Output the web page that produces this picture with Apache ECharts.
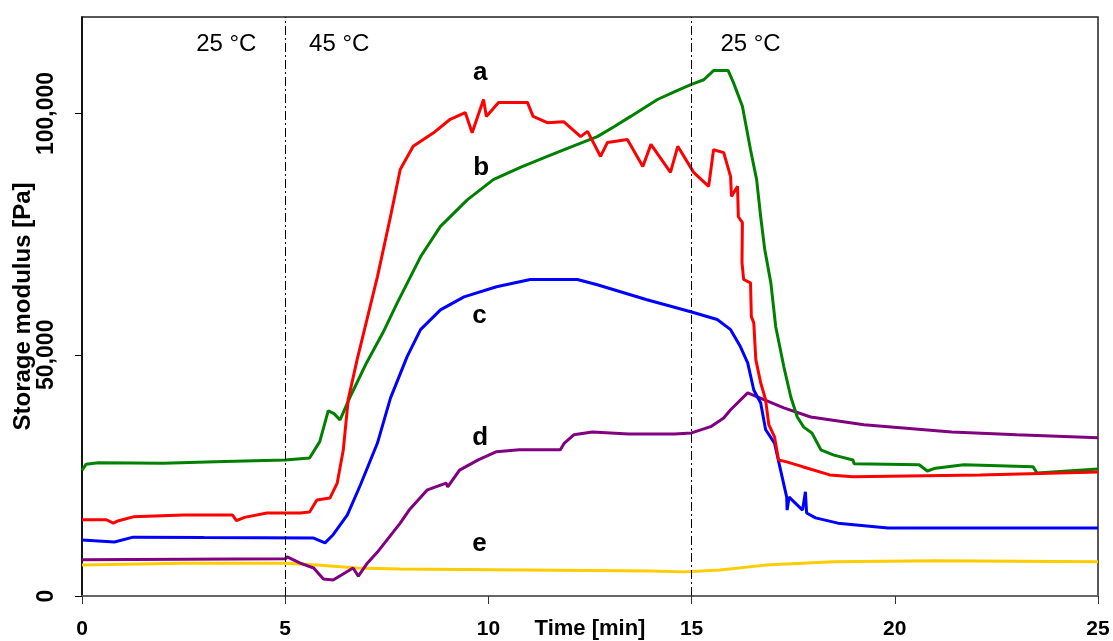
<!DOCTYPE html>
<html><head><meta charset="utf-8">
<script src="https://cdn.jsdelivr.net/npm/echarts@6/dist/echarts.min.js"></script>
<style>html,body{margin:0;padding:0;background:#fff}#c{width:1113px;height:641px}</style>
</head><body><div id="c"></div>
<script>
const xTicks = [0, 5, 10, 15, 20, 25];
const yTicks = [0, 50000, 100000];
const seriesA = [[0,15800],[0.6,15800],[0.77,15100],[0.9,15600],[1.26,16400],[2.5,16800],[3.7,16800],[3.8,15600],[4.0,16300],[4.55,17200],[5.37,17200],[5.6,17400],[5.78,19900],[6.1,20300],[6.28,23400],[6.43,30300],[6.55,40700],[6.77,49000],[7.27,66200],[7.59,78600],[7.83,88400],[8.15,93200],[8.65,96000],[9.06,98800],[9.43,100200],[9.6,96000],[9.88,102900],[9.95,99400],[10.25,102300],[10.96,102300],[11.1,99400],[11.45,98100],[11.85,98300],[12.27,95200],[12.44,96300],[12.76,91100],[12.93,94000],[13.42,94600],[13.8,89000],[14.0,93600],[14.48,87800],[14.66,93200],[15.05,87800],[15.42,84900],[15.54,92500],[15.79,91900],[15.96,86900],[15.98,82800],[16.13,84900],[16.15,78600],[16.25,77400],[16.24,69100],[16.28,65600],[16.45,64900],[16.47,57900],[16.53,56600],[16.58,49000],[16.7,44200],[16.82,40700],[16.9,35500],[17.04,33000],[17.14,28200],[17.34,27800],[17.73,26800],[18.4,25100],[18.97,24700],[22.1,25100],[25,25700]];
const seriesB = [[0,26100],[0.1,27300],[0.4,27600],[2,27500],[3.5,27900],[5,28200],[5.6,28600],[5.85,32000],[6.06,38400],[6.2,37800],[6.35,36500],[6.6,41300],[7.0,48300],[7.4,54500],[7.76,60800],[8.33,70300],[8.82,76600],[9.48,82100],[10.12,86300],[10.8,88900],[11.45,91100],[12.1,93300],[12.68,95200],[13.1,97300],[13.5,99400],[14.16,102900],[14.6,104600],[14.98,106000],[15.3,107000],[15.54,108900],[15.9,108900],[16.03,106400],[16.25,101500],[16.45,92500],[16.6,86300],[16.7,78600],[16.8,71800],[16.95,64900],[17.07,55800],[17.27,47500],[17.44,41300],[17.6,37100],[17.76,35000],[17.96,33800],[18.18,30300],[18.5,29200],[18.97,28200],[19.0,27400],[20.6,27200],[20.8,25900],[21.0,26500],[21.7,27200],[23.4,26800],[23.5,25500],[25,26300]];
const seriesC = [[0,11600],[0.8,11200],[1.26,12200],[3,12100],[5.7,12000],[5.98,11000],[6.18,12700],[6.53,16800],[6.85,23000],[7.27,31700],[7.59,41000],[8.0,49600],[8.33,55200],[8.82,59300],[9.4,62000],[10.2,64100],[11.03,65600],[12.19,65600],[12.68,64500],[13.9,61400],[14.98,58900],[15.63,57300],[15.96,55200],[16.2,51700],[16.38,48300],[16.53,42700],[16.7,40000],[16.82,34500],[17.04,31700],[17.17,26800],[17.34,20500],[17.35,17800],[17.4,20500],[17.73,17800],[17.8,21600],[17.83,17200],[18.05,16200],[18.6,15100],[19.83,14100],[25,14100]];
const seriesD = [[0,7500],[5.0,7700],[5.05,8100],[5.37,6800],[5.7,5800],[5.94,3500],[6.18,3300],[6.67,5800],[6.8,4100],[7.02,6800],[7.27,9100],[7.83,15100],[8.05,17800],[8.5,22000],[8.96,23400],[9.0,22600],[9.29,26100],[9.75,28200],[10.2,29900],[10.76,30300],[11.77,30300],[11.87,31700],[12.1,33400],[12.56,34000],[13.45,33600],[14.58,33600],[15.0,33800],[15.47,35100],[15.79,36900],[15.96,38600],[16.38,42100],[16.78,40700],[17.27,39000],[17.93,37100],[19.24,35500],[21.4,34000],[23.0,33400],[25,32800]];
const seriesE = [[0,6400],[2.5,6800],[5,6800],[5.78,6400],[6.77,5800],[7.83,5600],[14.0,5200],[14.8,5000],[15.7,5400],[16.82,6400],[18.5,7100],[21,7300],[25,7100]];
const tempLabels = ['25 °C', '45 °C', '25 °C'];
const tempX = [3.55, 6.33, 16.45];
const tempY = 114400;
const curveLabels = ['a', 'b', 'c', 'd', 'e'];
const curveLabelX = [9.8, 9.82, 9.78, 9.8, 9.78];
const curveLabelY = [108500, 88800, 58100, 32800, 10800];
const phaseLines = [5, 15];

const chart = echarts.init(document.getElementById('c'));
const font = 'Liberation Sans, Arial, sans-serif';
function lineSeries(data, color) {
  return { type: 'line', data: data, symbol: 'none', smooth: false, animation: false,
    lineStyle: { color: color, width: 3 }, z: 3 };
}
const s = [
  lineSeries(seriesE, '#ffcc00'),
  lineSeries(seriesD, '#800080'),
  lineSeries(seriesC, '#0000ff'),
  lineSeries(seriesB, '#008000'),
  lineSeries(seriesA, '#ff0000')
];
s[0].markLine = { silent: true, symbol: 'none', animation: false, label: { show: false },
  lineStyle: { color: '#000', width: 1, type: [9, 3, 2, 3] },
  data: phaseLines.map(v => ({ xAxis: v })) };
function textSeries(names, xs, ys, bold, size) {
  return { type: 'scatter', symbolSize: 1, animation: false, silent: true,
    itemStyle: { opacity: 0 },
    data: names.map((t, i) => ({ value: [xs[i], ys[i]], name: t })),
    label: { show: true, position: 'inside', formatter: p => p.name, color: '#000', opacity: 1,
      textBorderWidth: 0, fontSize: size, fontWeight: bold ? 'bold' : 'normal', fontFamily: font } };
}
s.push(textSeries(tempLabels, tempX, tempLabels.map(() => tempY), false, 24));
s.push(textSeries(curveLabels, curveLabelX, curveLabelY, true, 26));

chart.setOption({
  animation: false,
  grid: { left: 82, right: 15, top: 17, bottom: 45, show: true, borderColor: '#222', borderWidth: 1.5,
    containLabel: false, outerBoundsMode: 'none' },
  xAxis: { type: 'value', min: 0, max: 25, interval: 5,
    name: 'Time [min]', nameLocation: 'middle', nameGap: 22, nameMoveOverlap: false,
    nameTextStyle: { fontSize: 22, fontWeight: 'bold', color: '#000', fontFamily: font },
    axisLine: { lineStyle: { color: '#666', width: 2 } },
    axisTick: { show: true, length: 8, lineStyle: { color: '#333' } },
    axisLabel: { fontSize: 21, fontWeight: 'bold', color: '#000', fontFamily: font, margin: 23,
      formatter: v => xTicks.includes(v) ? String(v) : '' },
    splitLine: { show: false } },
  yAxis: { type: 'value', min: 0, max: 120000, interval: 50000,
    name: 'Storage modulus [Pa]', nameLocation: 'middle', nameGap: 47, nameMoveOverlap: false,
    nameTextStyle: { fontSize: 24, fontWeight: 'bold', color: '#000', fontFamily: font },
    axisLine: { show: true, lineStyle: { color: '#000', width: 1.5 } },
    axisTick: { show: true, length: 7, lineStyle: { color: '#000' }, customValues: yTicks },
    axisLabel: { rotate: 90, fontSize: 23, fontWeight: 'bold', color: '#000', fontFamily: font, margin: 24,
      customValues: yTicks, formatter: v => v.toLocaleString('en-US') },
    splitLine: { show: false } },
  series: s
});
</script></body></html>
